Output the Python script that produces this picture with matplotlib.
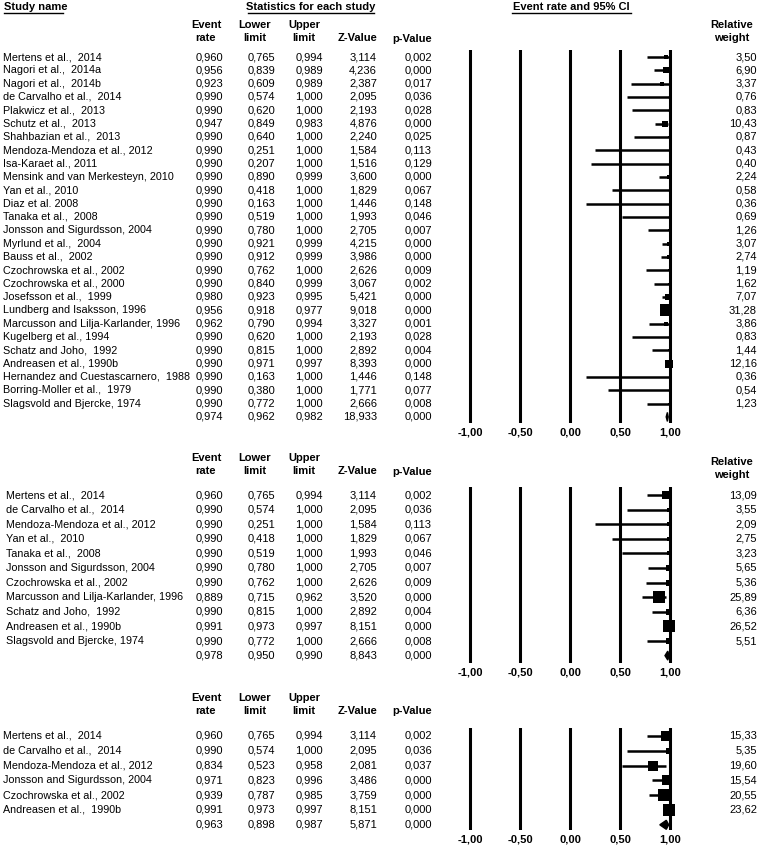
import numpy as np
import matplotlib
matplotlib.use("Agg")
import matplotlib.pyplot as plt

plt.rcParams['font.family'] = ['Liberation Sans', 'DejaVu Sans']

W, H = 761, 849

# --- panel 1: all studies ---
names1 = ["Mertens et al.,  2014", "Nagori et al.,  2014a", "Nagori et al.,  2014b",
          "de Carvalho et al.,  2014", "Plakwicz et al.,  2013", "Schutz et al.,  2013",
          "Shahbazian et al.,  2013", "Mendoza-Mendoza et al., 2012", "Isa-Karaet al., 2011",
          "Mensink and van Merkesteyn, 2010", "Yan et al., 2010", "Diaz et al. 2008",
          "Tanaka et al.,  2008", "Jonsson and Sigurdsson, 2004", "Myrlund et al.,  2004",
          "Bauss et al.,  2002", "Czochrowska et al., 2002", "Czochrowska et al., 2000",
          "Josefsson et al.,  1999", "Lundberg and Isaksson, 1996",
          "Marcusson and Lilja-Karlander, 1996", "Kugelberg et al., 1994",
          "Schatz and Joho,  1992", "Andreasen et al., 1990b",
          "Hernandez and Cuestascarnero,  1988", "Borring-Moller et al.,  1979",
          "Slagsvold and Bjercke, 1974"]
rate1 = [0.960, 0.956, 0.923, 0.990, 0.990, 0.947, 0.990, 0.990, 0.990, 0.990, 0.990, 0.990,
         0.990, 0.990, 0.990, 0.990, 0.990, 0.990, 0.980, 0.956, 0.962, 0.990, 0.990, 0.990,
         0.990, 0.990, 0.990]
lower1 = [0.765, 0.839, 0.609, 0.574, 0.620, 0.849, 0.640, 0.251, 0.207, 0.890, 0.418, 0.163,
          0.519, 0.780, 0.921, 0.912, 0.762, 0.840, 0.923, 0.918, 0.790, 0.620, 0.815, 0.971,
          0.163, 0.380, 0.772]
upper1 = [0.994, 0.989, 0.989, 1.000, 1.000, 0.983, 1.000, 1.000, 1.000, 0.999, 1.000, 1.000,
          1.000, 1.000, 0.999, 0.999, 1.000, 0.999, 0.995, 0.977, 0.994, 1.000, 1.000, 0.997,
          1.000, 1.000, 1.000]
z1 = [3.114, 4.236, 2.387, 2.095, 2.193, 4.876, 2.240, 1.584, 1.516, 3.600, 1.829, 1.446,
      1.993, 2.705, 4.215, 3.986, 2.626, 3.067, 5.421, 9.018, 3.327, 2.193, 2.892, 8.393,
      1.446, 1.771, 2.666]
p1 = [0.002, 0.000, 0.017, 0.036, 0.028, 0.000, 0.025, 0.113, 0.129, 0.000, 0.067, 0.148,
      0.046, 0.007, 0.000, 0.000, 0.009, 0.002, 0.000, 0.000, 0.001, 0.028, 0.004, 0.000,
      0.148, 0.077, 0.008]
weight1 = [3.50, 6.90, 3.37, 0.76, 0.83, 10.43, 0.87, 0.43, 0.40, 2.24, 0.58, 0.36, 0.69,
           1.26, 3.07, 2.74, 1.19, 1.62, 7.07, 31.28, 3.86, 0.83, 1.44, 12.16, 0.36, 0.54, 1.23]
summary1 = [0.974, 0.962, 0.982, 18.933, 0.000]

# --- panel 2 ---
names2 = ["Mertens et al.,  2014", "de Carvalho et al.,  2014", "Mendoza-Mendoza et al., 2012",
          "Yan et al.,  2010", "Tanaka et al.,  2008", "Jonsson and Sigurdsson, 2004",
          "Czochrowska et al., 2002", "Marcusson and Lilja-Karlander, 1996",
          "Schatz and Joho,  1992", "Andreasen et al., 1990b", "Slagsvold and Bjercke, 1974"]
rate2 = [0.960, 0.990, 0.990, 0.990, 0.990, 0.990, 0.990, 0.889, 0.990, 0.991, 0.990]
lower2 = [0.765, 0.574, 0.251, 0.418, 0.519, 0.780, 0.762, 0.715, 0.815, 0.973, 0.772]
upper2 = [0.994, 1.000, 1.000, 1.000, 1.000, 1.000, 1.000, 0.962, 1.000, 0.997, 1.000]
z2 = [3.114, 2.095, 1.584, 1.829, 1.993, 2.705, 2.626, 3.520, 2.892, 8.151, 2.666]
p2 = [0.002, 0.036, 0.113, 0.067, 0.046, 0.007, 0.009, 0.000, 0.004, 0.000, 0.008]
weight2 = [13.09, 3.55, 2.09, 2.75, 3.23, 5.65, 5.36, 25.89, 6.36, 26.52, 5.51]
summary2 = [0.978, 0.950, 0.990, 8.843, 0.000]

# --- panel 3 ---
names3 = ["Mertens et al.,  2014", "de Carvalho et al.,  2014", "Mendoza-Mendoza et al., 2012",
          "Jonsson and Sigurdsson, 2004", "Czochrowska et al., 2002", "Andreasen et al.,  1990b"]
rate3 = [0.960, 0.990, 0.834, 0.971, 0.939, 0.991]
lower3 = [0.765, 0.574, 0.523, 0.823, 0.787, 0.973]
upper3 = [0.994, 1.000, 0.958, 0.996, 0.985, 0.997]
z3 = [3.114, 2.095, 2.081, 3.486, 3.759, 8.151]
p3 = [0.002, 0.036, 0.037, 0.000, 0.000, 0.000]
weight3 = [15.33, 5.35, 19.60, 15.54, 20.55, 23.62]
summary3 = [0.963, 0.898, 0.987, 5.871, 0.000]

ticks = [-1.0, -0.5, 0.0, 0.5, 1.0]
FS = 8
FS_NAME = 7.75


def comma(v, nd):
    return f"{v:.{nd}f}".replace(".", ",")


fig = plt.figure(figsize=(W / 100, H / 100), dpi=100)
bg = fig.add_axes([0, 0, 1, 1])
bg.set_xlim(0, W)
bg.set_ylim(H, 0)
bg.axis("off")


def px_axes(x0, y0, x1, y1):
    return fig.add_axes([x0 / W, 1 - y1 / H, (x1 - x0) / W, (y1 - y0) / H])


def underline(x0, x1, y):
    bg.plot([x0, x1], [y, y], color="black", lw=1.0)


# top headers
bg.text(4, 7, "Study name", fontsize=FS, fontweight="bold", va="center")
underline(4, 63, 13)
bg.text(311, 7, "Statistics for each study", fontsize=FS, fontweight="bold", va="center", ha="center")
underline(248, 374, 13)
bg.text(571, 7, "Event rate and 95% CI", fontsize=FS, fontweight="bold", va="center", ha="center")
underline(512, 631, 13)

col_right = [223, 275, 323, 377, 432]


def col_headers(y1, y2, yw, with_weight):
    bg.text(206, y1, "Event", fontsize=FS, fontweight="bold", ha="center", va="center")
    bg.text(206, y2, "rate", fontsize=FS, fontweight="bold", ha="center", va="center")
    bg.text(255, y1, "Lower", fontsize=FS, fontweight="bold", ha="center", va="center")
    bg.text(255, y2, "limit", fontsize=FS, fontweight="bold", ha="center", va="center")
    bg.text(304, y1, "Upper", fontsize=FS, fontweight="bold", ha="center", va="center")
    bg.text(304, y2, "limit", fontsize=FS, fontweight="bold", ha="center", va="center")
    bg.text(377, y2, "Z-Value", fontsize=FS, fontweight="bold", ha="right", va="center")
    bg.text(432, y2 + 1, "p-Value", fontsize=FS, fontweight="bold", ha="right", va="center")
    if with_weight:
        bg.text(732, yw, "Relative", fontsize=FS, fontweight="bold", ha="center", va="center")
        bg.text(732, yw + 12.5, "weight", fontsize=FS, fontweight="bold", ha="center", va="center")


def panel(names, rate, lower, upper, z, p, weight, summary,
          y0, dy, top, bottom, name_x):
    n = len(names)
    # table text
    for i in range(n):
        y = y0 + i * dy
        bg.text(name_x, y, names[i], fontsize=FS_NAME, va="center", ha="left")
        vals = [comma(rate[i], 3), comma(lower[i], 3), comma(upper[i], 3),
                comma(z[i], 3), comma(p[i], 3)]
        for xr, s in zip(col_right, vals):
            bg.text(xr, y, s, fontsize=FS, va="center", ha="right")
        bg.text(757, y, comma(weight[i], 2), fontsize=FS, va="center", ha="right")
    ys = y0 + n * dy
    svals = [comma(v, 3) for v in summary]
    for xr, s in zip(col_right, svals):
        bg.text(xr, ys, s, fontsize=FS, va="center", ha="right")

    # forest plot
    ax = px_axes(420, top, 720, bottom)
    ax.set_xlim(-1.5, 1.5)
    ax.set_ylim((bottom - y0) / dy, (top - y0) / dy)
    for t in ticks:
        ax.axvline(t, color="black", lw=2.2, zorder=1)
    wmax = max(weight)
    for i in range(n):
        ax.plot([lower[i], upper[i]], [i, i], color="black", lw=1.8,
                solid_capstyle="butt", zorder=2, clip_on=False)
        side = max(12.0 * np.sqrt(weight[i] / wmax), 1.5)
        ax.plot(rate[i], i, marker="s", ms=side * 0.72, color="black",
                mec="black", mew=0, zorder=3, clip_on=False)
    h = 4.5 / dy
    est, lo, hi = summary[0], summary[1], summary[2]
    ax.fill([lo, est, hi, est], [n, n - h, n, n + h], color="black", zorder=3, clip_on=False)
    ax.set_xticks(ticks)
    ax.set_xticklabels([comma(t, 2) for t in ticks], fontsize=FS, fontweight="bold")
    ax.tick_params(axis="x", length=0, pad=3)
    ax.set_yticks([])
    for s in ax.spines.values():
        s.set_visible(False)
    ax.patch.set_alpha(0)
    return ax


col_headers(25, 37.5, 25, True)
panel(names1, rate1, lower1, upper1, z1, p1, weight1, summary1,
      57, 13.33, 50, 423, 3)

col_headers(458, 470.5, 462, True)
panel(names2, rate2, lower2, upper2, z2, p2, weight2, summary2,
      495, 14.6, 487, 663, 6)

col_headers(698, 710.5, 0, False)
panel(names3, rate3, lower3, upper3, z3, p3, weight3, summary3,
      736, 14.8, 728, 830, 3)

fig.savefig("out.png", dpi=100)
